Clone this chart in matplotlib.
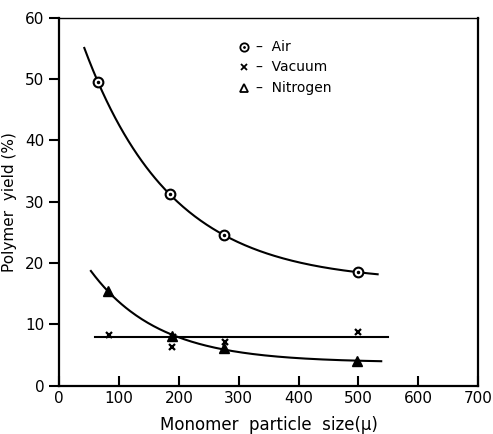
import numpy as np
import matplotlib.pyplot as plt

air_x = [65, 185, 275, 500]
air_y = [49.5, 31.2, 24.6, 18.5]
vac_x = [83, 188, 190, 277, 500]
vac_y = [8.3, 6.3, 8.0, 7.2, 8.7]
nit_x = [82, 189, 275, 498]
nit_y = [15.4, 8.1, 6.2, 4.0]
vac_level = 7.9

air_span = (42, 532)
nit_span = (53, 538)
vac_span = (60, 550)


def fit_decay(x, y):
    # y = a + b*exp(-k x), best k from a grid, a and b by least squares
    x = np.asarray(x, float)
    y = np.asarray(y, float)
    best = None
    for k in np.linspace(0.001, 0.03, 600):
        A = np.column_stack([np.ones_like(x), np.exp(-k * x)])
        coef, *_ = np.linalg.lstsq(A, y, rcond=None)
        err = np.sum((A @ coef - y) ** 2)
        if best is None or err < best[0]:
            best = (err, k, coef)
    _, k, (a, b) = best
    return lambda t: a + b * np.exp(-k * t)


def main():
    fig = plt.figure(figsize=(4.93, 4.34), dpi=100)
    ax = fig.add_axes([0.12, 0.111, 0.85, 0.848])

    fa = fit_decay(air_x, air_y)
    t = np.linspace(*air_span, 200)
    ax.plot(t, fa(t), color='k', lw=1.5)
    fn = fit_decay(nit_x, nit_y)
    t = np.linspace(*nit_span, 200)
    ax.plot(t, fn(t), color='k', lw=1.5)
    ax.plot(vac_span, [vac_level, vac_level], color='k', lw=1.5)

    ax.plot(air_x, air_y, 'o', mfc='white', mec='k', mew=1.5, ms=7)
    ax.plot(air_x, air_y, '.', color='k', ms=3)
    ax.plot(vac_x, vac_y, 'x', color='k', mew=1.6, ms=5)
    ax.plot(nit_x, nit_y, '^', color='k', ms=7)

    # key
    rows = [('o', '–  Air', 0.92), ('x', '–  Vacuum', 0.865), ('^', '–  Nitrogen', 0.81)]
    for m, lab, yy in rows:
        if m == 'o':
            ax.plot([0.44], [yy], 'o', mfc='white', mec='k', mew=1.3, ms=6, transform=ax.transAxes)
            ax.plot([0.44], [yy], '.', color='k', ms=2, transform=ax.transAxes)
        elif m == 'x':
            ax.plot([0.44], [yy], 'x', color='k', mew=1.3, ms=5, transform=ax.transAxes)
        else:
            ax.plot([0.44], [yy], '^', mfc='white', mec='k', mew=1.3, ms=6, transform=ax.transAxes)
        ax.text(0.47, yy, lab, transform=ax.transAxes, va='center', ha='left', fontsize=10)

    ax.set_xlim(0, 700)
    ax.set_ylim(0, 60)
    ax.set_xticks(range(0, 701, 100))
    ax.set_yticks(range(0, 61, 10))
    ax.tick_params(axis='x', direction='in', length=7, width=1.5, labelsize=11, pad=4)
    ax.tick_params(axis='y', direction='out', length=7, width=1.5, labelsize=11)
    for s in ['left', 'bottom', 'right']:
        ax.spines[s].set_linewidth(1.6)
    ax.spines['top'].set_linewidth(1.0)

    ax.set_xlabel('Monomer  particle  size(μ)', fontsize=12, labelpad=7)
    ax.set_ylabel('Polymer  yield (%)', fontsize=11, labelpad=6)

    fig.savefig('out.png', dpi=100)


main()
